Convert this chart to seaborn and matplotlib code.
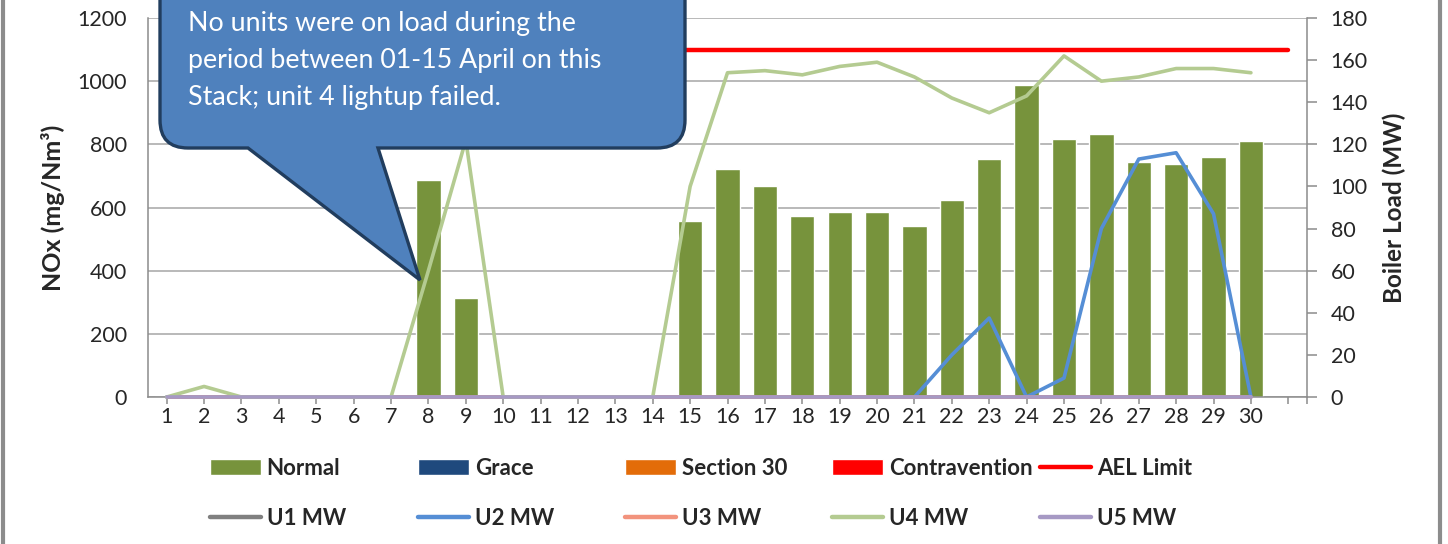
import seaborn as sns
import matplotlib.pyplot as plt
from matplotlib.path import Path
from matplotlib.patches import PathPatch, Patch
from matplotlib.lines import Line2D

# Datos (abril, NOx diario y carga por unidad)
days = list(range(1, 31))
nox_normal = [0, 0, 0, 0, 0, 0, 0, 688, 313, 0, 0, 0, 0, 0, 557, 722, 668, 573, 586, 586,
              541, 624, 754, 988, 817, 833, 744, 738, 760, 811]
u1_mw = [0, 0, 0, 0, 0, 0, 0, 0, 0, 0, 0, 0, 0, 0, 0, 0, 0, 0, 0, 0,
         0, 0, 0, 0, 0, 0, 0, 0, 0, 0]
u2_mw = [0, 0, 0, 0, 0, 0, 0, 0, 0, 0, 0, 0, 0, 0, 0, 0, 0, 0, 0, 0,
         0, 20, 37.5, 0, 9, 80, 113, 116, 87, 0]
u3_mw = [0, 0, 0, 0, 0, 0, 0, 0, 0, 0, 0, 0, 0, 0, 0, 0, 0, 0, 0, 0,
         0, 0, 0, 0, 0, 0, 0, 0, 0, 0]
u4_mw = [0, 5, 0, 0, 0, 0, 0, 60, 122, 0, 0, 0, 0, 0, 100, 154, 155, 153, 157, 159,
         152, 142, 135, 143, 162, 150, 152, 156, 156, 154]
u5_mw = [0, 0, 0, 0, 0, 0, 0, 0, 0, 0, 0, 0, 0, 0, 0, 0, 0, 0, 0, 0,
         0, 0, 0, 0, 0, 0, 0, 0, 0, 0]
ael_days = list(range(1, 32))
ael_limit = [1100, 1100, 1100, 1100, 1100, 1100, 1100, 1100, 1100, 1100, 1100, 1100, 1100,
             1100, 1100, 1100, 1100, 1100, 1100, 1100, 1100, 1100, 1100, 1100, 1100, 1100,
             1100, 1100, 1100, 1100, 1100]
tick_labels = [str(d) for d in days] + ['']

callout_lines = ['No units were on load during the',
                 'period between 01-15 April on this',
                 'Stack; unit 4 lightup failed.']

# Colores
verde = '#77933C'
gris = '#8C8C8C'
colores_u = {'U1 MW': '#808080', 'U2 MW': '#558ED5', 'U3 MW': '#F2937D',
             'U4 MW': '#B4CB91', 'U5 MW': '#A699C4'}

sns.set_theme(style="white")
plt.rcParams['font.family'] = ['Lato', 'DejaVu Sans']

W, H = 1448, 544
fig = plt.figure(figsize=(W / 100, H / 100), dpi=100)


def fx(x):
    return x / W


def fy(y):
    return 1 - y / H


ax = fig.add_axes([fx(148), fy(397), (1307 - 148) / W, (397 - 18) / H])
ax2 = ax.twinx()

# Barras (eje primario)
sns.barplot(x=days, y=nox_normal, native_scale=True, width=0.65, color=verde,
            saturation=1, errorbar=None, ax=ax, zorder=2)
sns.lineplot(x=ael_days, y=ael_limit, color='#FF0000', lw=3.2, ax=ax, zorder=3)

# Líneas de carga (eje secundario)
series = [u1_mw, u2_mw, u3_mw, u4_mw, u5_mw]
for nombre, vals in zip(colores_u, series):
    sns.lineplot(x=days, y=vals, color=colores_u[nombre], lw=2.6, ax=ax2, clip_on=False)

ax.set_xlim(0.5, 31.5)
ax.set_xticks(ael_days)
ax.set_xticklabels(tick_labels)
ax.set_xticks([31.5], minor=True)
ax.set_ylim(0, 1200)
ax.set_yticks(range(0, 1201, 200))
ax2.set_ylim(0, 180)
ax2.set_yticks(range(0, 181, 20))
ax.set_xlabel('')
ax.set_ylabel('')
ax2.set_ylabel('')

ax.yaxis.grid(True, color='#A6A6A6', lw=1.1)
ax.set_axisbelow(True)
for sp in ['top', 'right']:
    ax.spines[sp].set_visible(False)
for sp in ['top', 'left', 'bottom']:
    ax2.spines[sp].set_visible(False)
for sp in ['left', 'bottom']:
    ax.spines[sp].set_color(gris)
    ax.spines[sp].set_linewidth(1.1)
ax2.spines['right'].set_color(gris)
ax2.spines['right'].set_linewidth(1.1)

ax.tick_params(axis='x', which='both', bottom=True, length=5, color=gris, width=1.1,
               pad=2, labelsize=15.5)
ax.tick_params(axis='y', left=False, length=0, pad=15, labelsize=15.5)
ax2.tick_params(axis='y', right=True, length=7, color=gris, width=1.1, pad=10,
                labelsize=15.5)

fig.text(fx(53), fy(208), 'NOx (mg/Nm³)', rotation=90, ha='center', va='center',
         fontsize=18, fontweight='bold')
fig.text(fx(1394), fy(208), 'Boiler Load (MW)', rotation=90, ha='center', va='center',
         fontsize=17.5, fontweight='bold')

# Globo de texto
r = 28
x0, x1, yb, yt = 160, 685, 148, -40
pts = [(x0, yt), (x0, yb - r), (x0, yb), (x0 + r, yb), (248, yb), (420, 280), (378, yb),
       (x1 - r, yb), (x1, yb), (x1, yb - r), (x1, yt), (x0, yt)]
codes = [Path.MOVETO, Path.LINETO, Path.CURVE3, Path.CURVE3, Path.LINETO, Path.LINETO,
         Path.LINETO, Path.LINETO, Path.CURVE3, Path.CURVE3, Path.LINETO, Path.CLOSEPOLY]
camino = Path([(fx(a), fy(b)) for a, b in pts], codes)
fig.patches.append(PathPatch(camino, facecolor='#4F81BD', edgecolor='#213D5E', lw=2.4,
                             transform=fig.transFigure, zorder=4, clip_on=False))
for linea, base in zip(callout_lines, [31, 68, 105]):
    fig.text(fx(188), fy(base), linea, color='white', fontsize=19.3, va='baseline',
             ha='left', zorder=5)

# Leyenda en columnas fijas
col_x = [210, 418, 625, 832, 1040]
lw_leg = 3.2
handles = [
    [Patch(facecolor=verde), Line2D([], [], color=colores_u['U1 MW'], lw=lw_leg, solid_capstyle='round')],
    [Patch(facecolor='#1F497D'), Line2D([], [], color=colores_u['U2 MW'], lw=lw_leg, solid_capstyle='round')],
    [Patch(facecolor='#E36C09'), Line2D([], [], color=colores_u['U3 MW'], lw=lw_leg, solid_capstyle='round')],
    [Patch(facecolor='#FF0000'), Line2D([], [], color=colores_u['U4 MW'], lw=lw_leg, solid_capstyle='round')],
    [Line2D([], [], color='#FF0000', lw=lw_leg, solid_capstyle='round'),
     Line2D([], [], color=colores_u['U5 MW'], lw=lw_leg, solid_capstyle='round')],
]
labels = [['Normal', 'U1 MW'], ['Grace', 'U2 MW'], ['Section 30', 'U3 MW'],
          ['Contravention', 'U4 MW'], ['AEL Limit', 'U5 MW']]
for cx, hs, ls in zip(col_x, handles, labels):
    fig.legend(hs, ls, loc='upper left', bbox_to_anchor=(fx(cx), fy(458)), frameon=False,
               borderpad=0, borderaxespad=0, handlelength=2.3, handletextpad=0.25,
               labelspacing=1.3, prop={'weight': 'bold', 'size': 16})

# Marco del área del gráfico (recortado)
for xb in [3, 1440]:
    fig.add_artist(Line2D([fx(xb), fx(xb)], [0, 1], color='#8C8C8C', lw=3,
                          transform=fig.transFigure))

fig.savefig('out.png', dpi=100)
